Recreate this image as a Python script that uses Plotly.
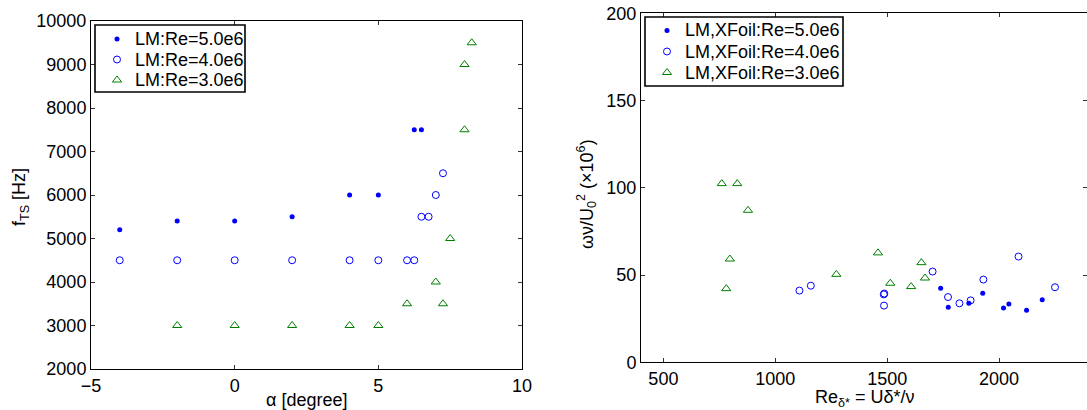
import plotly.graph_objects as go

# ---------------- data: left panel (alpha vs f_TS) ----------------
alpha_re5 = [-4, -2, 0, 2, 4, 5, 6.25, 6.5]
fts_re5 = [5200, 5400, 5400, 5500, 6000, 6000, 7500, 7500]

alpha_re4 = [-4, -2, 0, 2, 4, 5, 6, 6.25, 6.5, 6.75, 7, 7.25]
fts_re4 = [4500, 4500, 4500, 4500, 4500, 4500, 4500, 4500, 5500, 5500, 6000, 6500]

alpha_re3 = [-2, 0, 2, 4, 5, 6, 7.25, 7, 7.5, 8, 8, 8.25]
fts_re3 = [3000, 3000, 3000, 3000, 3000, 3500, 3500, 4000, 5000, 7500, 9000, 9500]

# ---------------- data: right panel (Re_delta* vs omega nu / U0^2) ----------------
red_re5 = [1739, 1773, 1865, 1927, 2020, 2044, 2123, 2193]
om_re5 = [42.4, 31.5, 33.8, 39.5, 31.1, 33.4, 29.8, 35.9]

red_re4 = [1108, 1159, 1485, 1487, 1486, 1703, 1772, 1823, 1873, 1930, 2087, 2250]
om_re4 = [41.1, 43.9, 38.9, 39.4, 32.5, 52.0, 37.4, 33.8, 35.5, 47.4, 60.6, 43.0]

red_re3 = [761, 830, 878, 797, 781, 1273, 1459, 1514, 1607, 1653, 1669]
om_re3 = [102.4, 102.4, 87.1, 59.2, 42.2, 50.4, 62.7, 45.3, 43.4, 57.1, 48.3]

left_xticks = [-5, 0, 5, 10]
left_xticklabels = ["\u22125", "0", "5", "10"]
left_yticks = [2000, 3000, 4000, 5000, 6000, 7000, 8000, 9000, 10000]
left_yticklabels = ["2000", "3000", "4000", "5000", "6000", "7000", "8000", "9000", "10000"]
right_xticks = [500, 1000, 1500, 2000]
right_yticks = [0, 50, 100, 150, 200]

left_legend_names = ["LM:Re=5.0e6", "LM:Re=4.0e6", "LM:Re=3.0e6"]
right_legend_names = ["LM,XFoil:Re=5.0e6", "LM,XFoil:Re=4.0e6", "LM,XFoil:Re=3.0e6"]

BLUE = "#0000ff"
GREEN = "#008000"
FONT = "Liberation Sans, Arial, Helvetica, sans-serif"
FS = 18
W, H = 1087, 410

MARKERS = [
    dict(symbol="circle", size=5, color=BLUE, line=dict(width=0)),
    dict(symbol="circle-open", size=7, color=BLUE, line=dict(width=1, color=BLUE)),
    dict(symbol="triangle-up-open", size=8, color=GREEN, line=dict(width=1, color=GREEN)),
]

fig = go.Figure()

series_left = [(alpha_re5, fts_re5), (alpha_re4, fts_re4), (alpha_re3, fts_re3)]
series_right = [(red_re5, om_re5), (red_re4, om_re4), (red_re3, om_re3)]

for (x, y), name, mk in zip(series_left, left_legend_names, MARKERS):
    fig.add_trace(go.Scatter(x=x, y=y, mode="markers", name=name, xaxis="x", yaxis="y",
                             marker=mk, showlegend=False))
for (x, y), name, mk in zip(series_right, right_legend_names, MARKERS):
    fig.add_trace(go.Scatter(x=x, y=y, mode="markers", name=name, xaxis="x2", yaxis="y2",
                             marker=mk, showlegend=False))

def px_x(p):
    return p / W

def px_y(p):
    return (H - p) / H

# ---------------- hand-drawn legends (pixel-space overlay axis) ----------------
legend_specs = [
    # box (x0, y0, x1, y1), marker x, text x, row ys, names
    ((95, 25, 245, 92), 117, 133, [39, 59.5, 80], left_legend_names),
    ((645, 17, 843, 86), 667, 683, [30.5, 51.5, 72.5], right_legend_names),
]
for (x0, y0, x1, y1), mx, tx, rows, names in legend_specs:
    fig.add_shape(type="rect", xref="paper", yref="paper", x0=px_x(x0), x1=px_x(x1),
                  y0=px_y(y0), y1=px_y(y1), line=dict(color="black", width=1.6),
                  fillcolor="rgba(0,0,0,0)", layer="above")
    for ry, name, mk in zip(rows, names, MARKERS):
        fig.add_trace(go.Scatter(x=[mx], y=[ry], mode="markers", xaxis="x3", yaxis="y3",
                                 marker=mk, showlegend=False, hoverinfo="skip"))
        fig.add_annotation(text=name, x=px_x(tx), y=px_y(ry), xref="paper", yref="paper",
                           showarrow=False, xanchor="left", yanchor="middle",
                           font=dict(family=FONT, size=FS, color="black"))

axis_common = dict(showline=True, linecolor="black", linewidth=1, mirror="ticks",
                   ticks="inside", ticklen=4, tickwidth=1, tickcolor="#333333",
                   showgrid=False, zeroline=False, automargin=False,
                   tickfont=dict(family=FONT, size=FS, color="black"))

fig.update_layout(
    width=W, height=H,
    margin=dict(l=0, r=0, t=0, b=0, autoexpand=False),
    paper_bgcolor="white", plot_bgcolor="rgba(0,0,0,0)",
    font=dict(family=FONT, size=FS, color="black"),
    showlegend=False,
    xaxis=dict(domain=[px_x(91), px_x(522)], range=[-5, 10], tickvals=left_xticks,
               ticktext=left_xticklabels, anchor="y", **axis_common),
    yaxis=dict(domain=[px_y(369), px_y(21)], range=[2000, 10000], tickvals=left_yticks,
               ticktext=left_yticklabels, anchor="x", **axis_common),
    xaxis2=dict(domain=[px_x(641), 1.0], range=[400, 2393], tickvals=right_xticks,
                anchor="y2", **axis_common),
    yaxis2=dict(domain=[px_y(362.3), px_y(13.3)], range=[0, 200], tickvals=right_yticks,
                anchor="x2", **axis_common),
    xaxis3=dict(domain=[0, 1], range=[0, W], visible=False, anchor="y3", fixedrange=True),
    yaxis3=dict(domain=[0, 1], range=[H, 0], visible=False, anchor="x3", fixedrange=True),
)

ann_font = dict(family=FONT, size=FS, color="black")
fig.add_annotation(text="f<sub>TS</sub> [Hz]", x=px_x(20), y=px_y(197), xref="paper", yref="paper",
                   textangle=-90, showarrow=False, font=ann_font, xanchor="center", yanchor="middle")
fig.add_annotation(text="\u03b1 [degree]", x=px_x(306), y=px_y(400), xref="paper", yref="paper",
                   showarrow=False, font=ann_font, xanchor="center", yanchor="middle")
fig.add_annotation(text="\u03c9\u03bd/U<sub>0</sub><sup>2</sup> (\u00d710<sup>6</sup>)", x=px_x(586), y=px_y(194),
                   xref="paper", yref="paper", textangle=-90, showarrow=False, font=ann_font,
                   xanchor="center", yanchor="middle")
fig.add_annotation(text="Re<sub>\u03b4*</sub> = U\u03b4*/\u03bd", x=px_x(864), y=px_y(398),
                   xref="paper", yref="paper", showarrow=False, font=ann_font,
                   xanchor="center", yanchor="middle")

fig.write_html("out.html")
